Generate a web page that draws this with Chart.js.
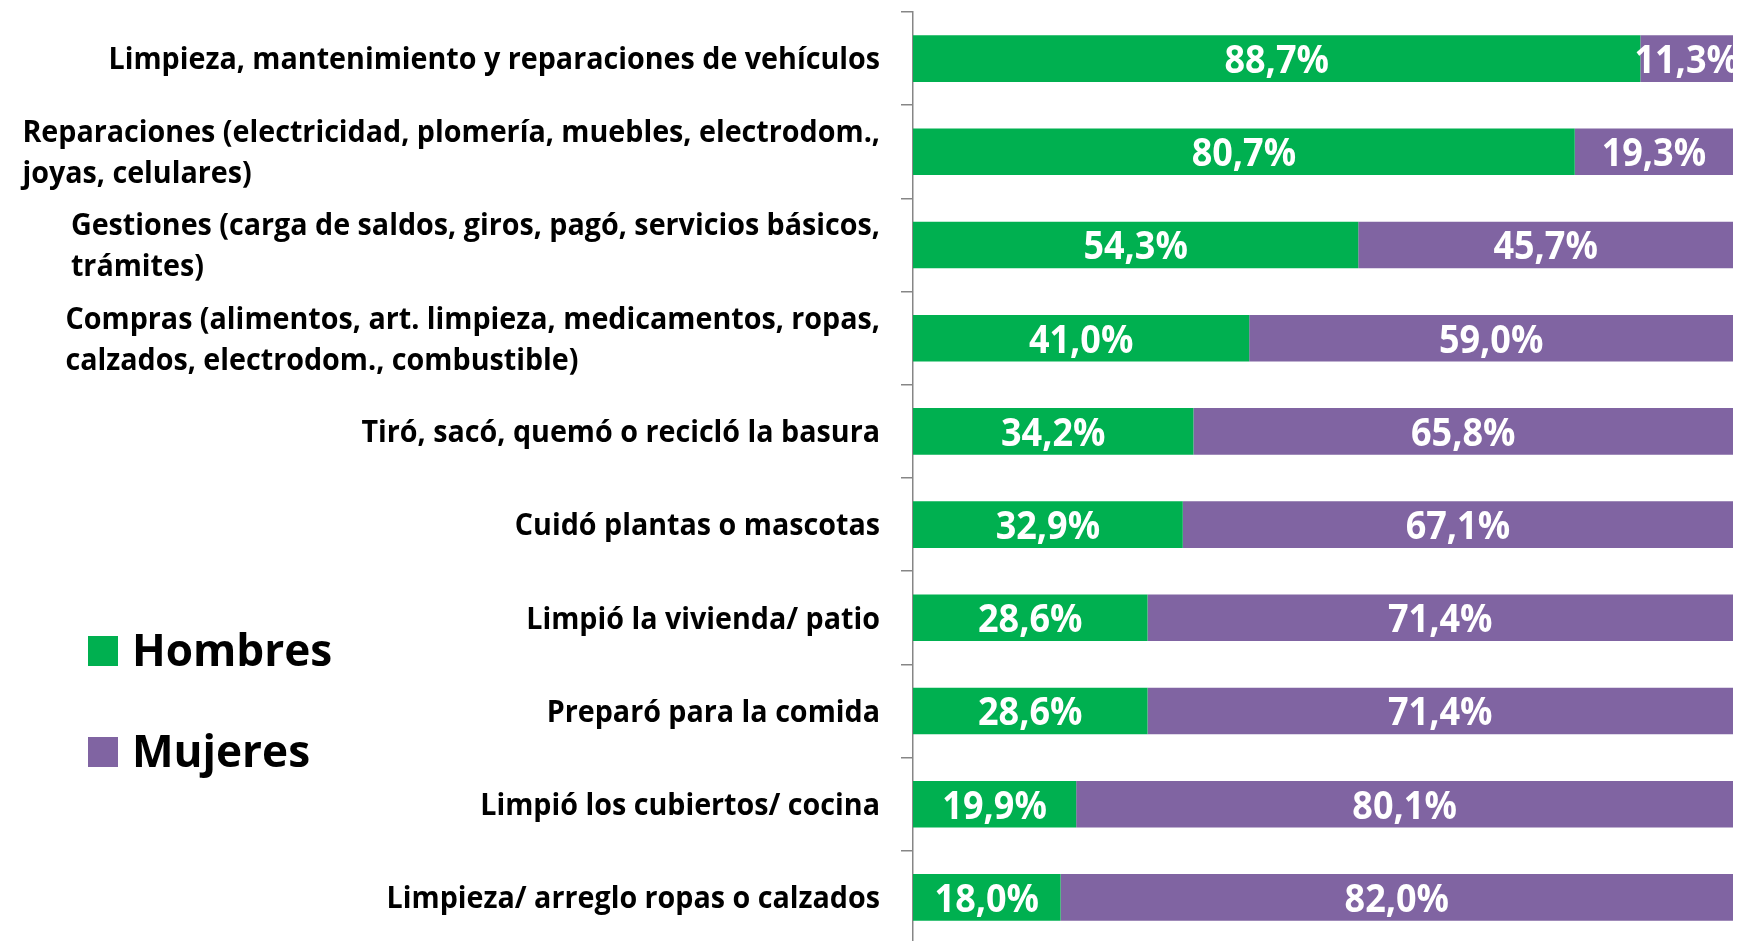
<!DOCTYPE html>
<html lang="es">
<head>
<meta charset="utf-8">
<title>Tareas del hogar por sexo</title>
<script src="https://cdn.jsdelivr.net/npm/chart.js@4.4.1/dist/chart.umd.min.js"></script>
<style>
    html, body { margin: 0; padding: 0; background: #fff; overflow: hidden; }
    #wrap { width: 1738px; height: 941px; overflow: hidden; }
</style>
</head>
<body>
<div id="wrap"><canvas id="chart" width="1738" height="944"></canvas></div>
<script>
// Categories (top to bottom); multi-line labels are arrays of lines
const categories = [
    ['Limpieza, mantenimiento y reparaciones de vehículos'],
    ['Reparaciones (electricidad, plomería, muebles, electrodom.,', 'joyas, celulares)'],
    ['Gestiones (carga de saldos, giros, pagó, servicios básicos,', 'trámites)'],
    ['Compras (alimentos, art. limpieza, medicamentos, ropas,', 'calzados, electrodom., combustible)'],
    ['Tiró, sacó, quemó o recicló la basura'],
    ['Cuidó plantas o mascotas'],
    ['Limpió la vivienda/ patio'],
    ['Preparó para la comida'],
    ['Limpió los cubiertos/ cocina'],
    ['Limpieza/ arreglo ropas o calzados']
];
const seriesNames = ['Hombres', 'Mujeres'];
const hombres = [88.7, 80.7, 54.3, 41.0, 34.2, 32.9, 28.6, 28.6, 19.9, 18.0];
const mujeres = [11.3, 19.3, 45.7, 59.0, 65.8, 67.1, 71.4, 71.4, 80.1, 82.0];

const FONT = "'Open Sans', sans-serif";
const GREEN = '#00B050';
const PURPLE = '#8064A2';
const AXIS_GRAY = '#868686';

const fmt = v => v.toFixed(1).replace('.', ',') + '%';

/**
 * Draw text squeezed horizontally (the original uses a narrow font)
 */
function narrowText(ctx, text, x, y, k) {
    ctx.save();
    ctx.translate(x, y);
    ctx.scale(k, 1);
    ctx.fillText(text, 0, 0);
    ctx.restore();
}

// Category labels: block right-aligned to the axis, lines left-aligned inside it
const categoryLabels = {
    id: 'categoryLabels',
    afterDraw(chart) {
        const ctx = chart.ctx;
        const yScale = chart.scales.y;
        const right = chart.chartArea.left - 33;
        const lineHeight = 41;
        const k = 0.925;
        ctx.save();
        ctx.font = 'bold 31px ' + FONT;
        ctx.fillStyle = '#000';
        ctx.textAlign = 'left';
        ctx.textBaseline = 'middle';
        chart.data.labels.forEach((lines, i) => {
            const yc = yScale.getPixelForValue(i) + 2;
            const maxW = Math.max(...lines.map(l => ctx.measureText(l).width)) * k;
            const x = right - maxW;
            const y0 = yc - (lines.length - 1) * lineHeight / 2;
            lines.forEach((line, j) => narrowText(ctx, line, x, y0 + j * lineHeight, k));
        });
        ctx.restore();
    }
};

// Value labels centred in each bar segment
const valueLabels = {
    id: 'valueLabels',
    afterDatasetsDraw(chart) {
        const ctx = chart.ctx;
        ctx.save();
        ctx.font = 'bold 40px ' + FONT;
        ctx.fillStyle = '#fff';
        ctx.textAlign = 'center';
        ctx.textBaseline = 'middle';
        chart.data.datasets.forEach((ds, di) => {
            chart.getDatasetMeta(di).data.forEach((bar, i) => {
                const p = bar.getCenterPoint();
                narrowText(ctx, fmt(ds.data[i]), p.x, p.y + 3, 0.9);
            });
        });
        ctx.restore();
    }
};

// Legend drawn in the lower-left corner, under the labels
const sideLegend = {
    id: 'sideLegend',
    afterDraw(chart) {
        const ctx = chart.ctx;
        ctx.save();
        ctx.font = 'bold 45px ' + FONT;
        ctx.textBaseline = 'middle';
        ctx.textAlign = 'left';
        chart.data.datasets.forEach((ds, i) => {
            const yc = 651 + i * 101;
            ctx.fillStyle = ds.backgroundColor;
            ctx.fillRect(88, yc - 15, 30, 30);
            ctx.fillStyle = '#000';
            narrowText(ctx, ds.label, 132, yc + 2, 0.98);
        });
        ctx.restore();
    }
};

const ctx = document.getElementById('chart').getContext('2d');
new Chart(ctx, {
    type: 'bar',
    data: {
        labels: categories,
        datasets: [
            { label: seriesNames[0], data: hombres, backgroundColor: GREEN },
            { label: seriesNames[1], data: mujeres, backgroundColor: PURPLE }
        ]
    },
    options: {
        indexAxis: 'y',
        responsive: false,
        animation: false,
        layout: { padding: { top: 12, right: 5, bottom: 0, left: 0 } },
        datasets: {
            bar: { categoryPercentage: 1, barPercentage: 0.5 }
        },
        plugins: {
            legend: { display: false },
            tooltip: { enabled: false }
        },
        scales: {
            x: {
                stacked: true,
                min: 0,
                max: 100,
                display: false
            },
            y: {
                stacked: true,
                position: 'left',
                afterFit(scale) { scale.width = 913; },
                ticks: { display: false },
                grid: {
                    offset: true,
                    drawOnChartArea: false,
                    drawTicks: true,
                    tickLength: 12,
                    color: AXIS_GRAY,
                    lineWidth: 1.5
                },
                border: { display: true, color: AXIS_GRAY, width: 1.5 }
            }
        }
    },
    plugins: [categoryLabels, valueLabels, sideLegend]
});
</script>
</body>
</html>
